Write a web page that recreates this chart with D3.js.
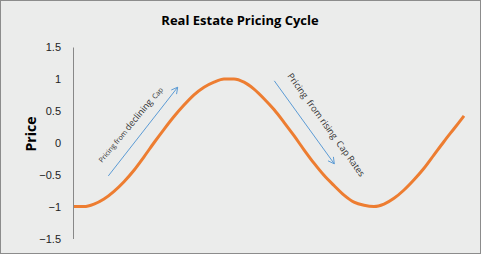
<!DOCTYPE html>
<html><head><meta charset="utf-8">
<script src="https://cdn.jsdelivr.net/npm/d3@7"></script>
<style>
html,body{margin:0;padding:0;background:#ebeceb;}
svg{display:block;}
</style></head>
<body>
<svg id="c" width="481" height="254"></svg>
<script>
const title = "Real Estate Pricing Cycle";
const yLabel = "Price";
const yTicks = [-1.5, -1, -0.5, 0, 0.5, 1, 1.5];
const periods = d3.range(40);
const prices = [-1.00,-1.00,-0.96,-0.88,-0.76,-0.61,-0.43,-0.22,0.00,0.21,
  0.41,0.59,0.75,0.87,0.95,1.00,1.00,0.95,0.84,0.69,
  0.52,0.32,0.11,-0.11,-0.32,-0.51,-0.67,-0.82,-0.93,-0.98,
  -1.00,-0.96,-0.87,-0.74,-0.58,-0.40,-0.19,0.02,0.22,0.42];
const annUp = {from:[3.43,-0.52], to:[10.37,0.87], text:["Pricing from ","declining","  Cap"]};
const annDown = {from:[20.03,0.97], to:[26.03,-0.33], text:"Pricing  from rising  Cap Rates"};

const svg = d3.select("#c");
svg.append("rect").attr("x",0.5).attr("y",0.5).attr("width",480).attr("height",253)
  .attr("fill","#ebeceb").attr("stroke","#8c8c8c");

const x = d3.scaleLinear().domain([0, periods.length-1]).range([74, 464]);
const y = d3.scaleLinear().domain([-1.5, 1.5]).range([238.5, 47]);

svg.append("text").attr("x",240).attr("y",25).attr("text-anchor","middle")
  .attr("font-family","Open Sans, sans-serif").attr("font-weight","bold").attr("font-size",13)
  .attr("fill","#000").text(title);

const ax = svg.append("g").attr("transform","translate(73,0)")
  .call(d3.axisLeft(y).tickValues(yTicks).tickSize(0).tickPadding(12).tickFormat(d3.format("")));
ax.select(".domain").attr("stroke","#888").attr("stroke-width",1);
ax.selectAll("text").attr("font-family","Liberation Sans, Arial, sans-serif").attr("font-size",11).attr("fill","#222");

svg.append("text").attr("transform","translate(36,134) rotate(-90)").attr("text-anchor","middle")
  .attr("font-family","Open Sans, sans-serif").attr("font-weight","bold").attr("font-size",14)
  .attr("fill","#000").text(yLabel);

const line = d3.line().x((d,i)=>x(periods[i])).y(d=>y(d)).curve(d3.curveMonotoneX);
svg.append("path").datum(prices).attr("d",line).attr("fill","none")
  .attr("stroke","#ed7d31").attr("stroke-width",3).attr("stroke-linejoin","round");

function arrow(a){
  const x1=x(a.from[0]), y1=y(a.from[1]), x2=x(a.to[0]), y2=y(a.to[1]);
  const ang = Math.atan2(y2-y1, x2-x1);
  svg.append("line").attr("x1",x1).attr("y1",y1).attr("x2",x2).attr("y2",y2)
    .attr("stroke","#5b9bd5").attr("stroke-width",1);
  const L=7, w=0.5;
  const p = [[x2-L*Math.cos(ang-w), y2-L*Math.sin(ang-w)],[x2,y2],[x2-L*Math.cos(ang+w), y2-L*Math.sin(ang+w)]];
  svg.append("path").attr("d", d3.line()(p)).attr("fill","none").attr("stroke","#5b9bd5").attr("stroke-width",1);
  return {x1,y1,x2,y2,ang:ang*180/Math.PI};
}
const a1 = arrow(annUp);
const a2 = arrow(annDown);

const t1 = svg.append("text").attr("transform",`translate(102,163) rotate(${a1.ang+2})`)
  .attr("font-family","Open Sans, sans-serif").attr("fill","#333");
t1.append("tspan").attr("font-size",7).text(annUp.text[0]);
t1.append("tspan").attr("font-size",9).text(annUp.text[1]);
t1.append("tspan").attr("font-size",7).attr("xml:space","preserve").text(annUp.text[2]);

svg.append("text").attr("transform",`translate(287,76) rotate(${a2.ang})`)
  .attr("font-family","Open Sans, sans-serif").attr("font-size",9).attr("fill","#333")
  .attr("xml:space","preserve").text(annDown.text);
</script>
</body></html>
